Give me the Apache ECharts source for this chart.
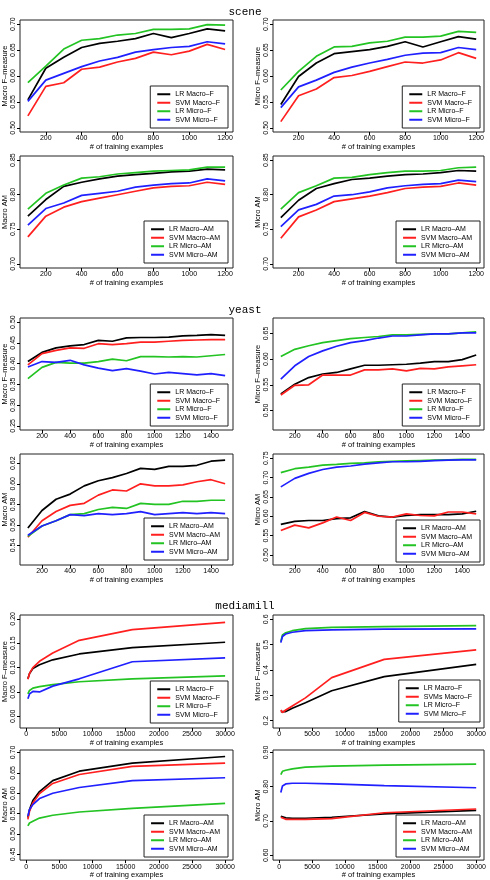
<!DOCTYPE html>
<html><head><meta charset="utf-8">
<script src="https://cdn.jsdelivr.net/npm/echarts@6/dist/echarts.min.js"></script>
<style>html,body{margin:0;padding:0;background:#fff}#c{width:490px;height:880px}</style>
</head><body><div id="c"></div>
<script>
// ---------- x values ----------
const sceneX = [100,200,300,400,500,600,700,800,900,1000,1100,1200];
const yeastX = [100,200,300,400,500,600,700,800,900,1000,1100,1200,1300,1400,1500];
const mediamillX = [250,500,1000,2000,4000,8000,16000,30000];

// ---------- tick labels ----------
const sceneXTicks = [200,400,600,800,1000,1200];
const yeastXTicks = [200,400,600,800,1000,1200,1400];
const mediamillXTicks = [0,5000,10000,15000,20000,25000,30000];

// ---------- legend names ----------
const namesF = ['LR Macro–F','SVM Macro–F','LR Micro–F','SVM Micro–F'];
const namesF2 = ['LR Macro–F','SVMs Macro–F','LR Micro–F','SVM Micro–F'];
const namesAM = ['LR Macro–AM','SVM Macro–AM','LR Micro–AM','SVM Micro–AM'];

// ---------- scene: Macro F-measure ----------
const sceneMacroF_lrMacro  = [0.554,0.615,0.636,0.655,0.663,0.667,0.672,0.682,0.674,0.682,0.691,0.687];
const sceneMacroF_svmMacro = [0.523,0.580,0.587,0.613,0.617,0.627,0.634,0.646,0.641,0.648,0.661,0.651];
const sceneMacroF_lrMicro  = [0.587,0.619,0.652,0.669,0.672,0.679,0.682,0.690,0.690,0.691,0.699,0.698];
const sceneMacroF_svmMicro = [0.551,0.592,0.605,0.618,0.629,0.636,0.646,0.651,0.655,0.657,0.666,0.662];
// ---------- scene: Micro F-measure ----------
const sceneMicroF_lrMacro  = [0.545,0.599,0.625,0.643,0.647,0.651,0.657,0.666,0.656,0.666,0.676,0.671];
const sceneMicroF_svmMacro = [0.512,0.562,0.575,0.597,0.601,0.609,0.618,0.627,0.625,0.631,0.645,0.634];
const sceneMicroF_lrMicro  = [0.573,0.609,0.638,0.656,0.657,0.664,0.667,0.675,0.675,0.677,0.686,0.684];
const sceneMicroF_svmMicro = [0.539,0.579,0.592,0.607,0.617,0.625,0.632,0.640,0.644,0.645,0.655,0.651];
// ---------- scene: Macro AM ----------
const sceneMacroAM_lrMacro  = [0.769,0.793,0.812,0.818,0.823,0.827,0.829,0.831,0.833,0.834,0.837,0.836];
const sceneMacroAM_svmMacro = [0.739,0.769,0.782,0.790,0.795,0.800,0.805,0.810,0.812,0.813,0.818,0.815];
const sceneMacroAM_lrMicro  = [0.779,0.802,0.814,0.824,0.826,0.830,0.832,0.834,0.835,0.836,0.840,0.840];
const sceneMacroAM_svmMicro = [0.756,0.780,0.788,0.799,0.802,0.805,0.811,0.814,0.816,0.817,0.823,0.820];
// ---------- scene: Micro AM ----------
const sceneMicroAM_lrMacro  = [0.767,0.792,0.809,0.816,0.822,0.824,0.827,0.829,0.830,0.832,0.835,0.834];
const sceneMicroAM_svmMacro = [0.737,0.768,0.778,0.790,0.794,0.798,0.803,0.809,0.811,0.812,0.817,0.814];
const sceneMicroAM_lrMicro  = [0.779,0.803,0.813,0.824,0.825,0.829,0.832,0.834,0.834,0.835,0.839,0.840];
const sceneMicroAM_svmMicro = [0.754,0.778,0.786,0.798,0.800,0.804,0.810,0.813,0.815,0.816,0.821,0.819];

// ---------- yeast: Macro F-measure ----------
const yeastMacroF_lrMacro  = [0.405,0.427,0.438,0.443,0.446,0.456,0.454,0.462,0.463,0.463,0.464,0.467,0.468,0.470,0.468];
const yeastMacroF_svmMacro = [0.397,0.424,0.432,0.438,0.437,0.448,0.446,0.448,0.452,0.452,0.454,0.456,0.457,0.458,0.458];
const yeastMacroF_lrMicro  = [0.364,0.391,0.403,0.401,0.401,0.405,0.411,0.407,0.417,0.417,0.416,0.417,0.416,0.419,0.422];
const yeastMacroF_svmMicro = [0.392,0.405,0.403,0.408,0.397,0.389,0.383,0.388,0.382,0.375,0.379,0.376,0.373,0.376,0.371];
// ---------- yeast: Micro F-measure ----------
const yeastMicroF_lrMacro  = [0.532,0.551,0.564,0.571,0.574,0.581,0.588,0.588,0.589,0.590,0.592,0.595,0.595,0.599,0.608];
const yeastMicroF_svmMacro = [0.530,0.549,0.550,0.569,0.569,0.569,0.579,0.579,0.581,0.577,0.582,0.581,0.585,0.587,0.589];
const yeastMicroF_lrMicro  = [0.605,0.619,0.626,0.632,0.636,0.640,0.642,0.644,0.647,0.647,0.648,0.649,0.649,0.651,0.653];
const yeastMicroF_svmMicro = [0.561,0.587,0.605,0.616,0.625,0.632,0.636,0.641,0.645,0.645,0.647,0.649,0.649,0.651,0.651];
// ---------- yeast: Macro AM ----------
const yeastMacroAM_lrMacro  = [0.557,0.574,0.585,0.590,0.598,0.603,0.606,0.610,0.615,0.614,0.617,0.617,0.618,0.622,0.623];
const yeastMacroAM_svmMacro = [0.548,0.564,0.573,0.579,0.581,0.589,0.594,0.593,0.600,0.598,0.598,0.599,0.602,0.604,0.600];
const yeastMacroAM_lrMicro  = [0.549,0.559,0.564,0.570,0.571,0.575,0.577,0.576,0.581,0.580,0.580,0.583,0.583,0.584,0.584];
const yeastMacroAM_svmMicro = [0.550,0.559,0.564,0.570,0.569,0.571,0.570,0.571,0.573,0.570,0.571,0.572,0.571,0.572,0.571];
// ---------- yeast: Micro AM ----------
const yeastMicroAM_lrMacro  = [0.579,0.587,0.589,0.589,0.594,0.596,0.612,0.601,0.598,0.602,0.604,0.604,0.604,0.606,0.613];
const yeastMicroAM_svmMacro = [0.563,0.577,0.570,0.583,0.598,0.589,0.610,0.600,0.598,0.606,0.602,0.601,0.611,0.611,0.606];
const yeastMicroAM_lrMicro  = [0.713,0.723,0.727,0.732,0.734,0.737,0.738,0.741,0.742,0.743,0.744,0.745,0.746,0.747,0.747];
const yeastMicroAM_svmMicro = [0.676,0.698,0.711,0.721,0.727,0.730,0.735,0.738,0.741,0.741,0.742,0.744,0.745,0.746,0.746];

// ---------- mediamill: Macro F-measure ----------
const mmMacroF_lrMacro  = [0.077,0.088,0.098,0.106,0.116,0.128,0.141,0.152];
const mmMacroF_svmMacro = [0.076,0.088,0.100,0.113,0.130,0.156,0.178,0.193];
const mmMacroF_lrMicro  = [0.046,0.053,0.058,0.061,0.065,0.071,0.077,0.083];
const mmMacroF_svmMicro = [0.036,0.046,0.051,0.050,0.062,0.077,0.112,0.120];
// ---------- mediamill: Micro F-measure ----------
const mmMicroF_lrMacro  = [0.236,0.229,0.236,0.249,0.271,0.318,0.374,0.422];
const mmMicroF_svmMacro = [0.242,0.232,0.242,0.258,0.290,0.370,0.442,0.479];
const mmMicroF_lrMicro  = [0.512,0.538,0.547,0.555,0.563,0.568,0.571,0.575];
const mmMicroF_svmMicro = [0.508,0.532,0.542,0.549,0.555,0.558,0.561,0.562];
// ---------- mediamill: Macro AM ----------
const mmMacroAM_lrMacro  = [0.540,0.560,0.582,0.604,0.631,0.654,0.674,0.690];
const mmMacroAM_svmMacro = [0.536,0.556,0.576,0.599,0.624,0.646,0.666,0.674];
const mmMacroAM_lrMicro  = [0.520,0.527,0.531,0.539,0.546,0.554,0.563,0.575];
const mmMacroAM_svmMicro = [0.544,0.560,0.572,0.587,0.600,0.614,0.631,0.638];
// ---------- mediamill: Micro AM ----------
const mmMicroAM_lrMacro  = [0.714,0.710,0.709,0.708,0.708,0.711,0.721,0.731];
const mmMicroAM_svmMacro = [0.711,0.707,0.705,0.705,0.705,0.707,0.724,0.735];
const mmMicroAM_lrMicro  = [0.835,0.845,0.848,0.852,0.857,0.860,0.863,0.866];
const mmMicroAM_svmMicro = [0.783,0.802,0.808,0.810,0.810,0.808,0.803,0.797];

// ---------- y tick labels ----------
const yTicksSceneF  = [0.50,0.55,0.60,0.65,0.70];
const yTicksSceneAM = [0.70,0.75,0.80,0.85];
const yTicksYeastMacroF = [0.25,0.30,0.35,0.40,0.45,0.50];
const yTicksYeastMicroF = [0.50,0.55,0.60,0.65];
const yTicksYeastMacroAM = [0.54,0.56,0.58,0.60,0.62];
const yTicksYeastMicroAM = [0.50,0.55,0.60,0.65,0.70,0.75];
const yTicksMmMacroF = [0.00,0.05,0.10,0.15,0.20];
const yTicksMmMicroF = [0.2,0.3,0.4,0.5,0.6];
const yTicksMmMacroAM = [0.45,0.50,0.55,0.60,0.65,0.70];
const yTicksMmMicroAM = [0.60,0.70,0.80,0.90];

// ---------- build ----------
const FONT = '"Liberation Sans", Arial, Helvetica, sans-serif';
const COLORS = ['#000000','#ff1f1f','#22c322','#2020ff'];

const panels = [
  {x:sceneX, xt:sceneXTicks, xr:[56,1244], ys:[sceneMacroF_lrMacro,sceneMacroF_svmMacro,sceneMacroF_lrMicro,sceneMacroF_svmMicro], names:namesF, yname:'Macro F–measure', yt:yTicksSceneF, yr:[0.492,0.708], dec:2},
  {x:sceneX, xt:sceneXTicks, xr:[56,1244], ys:[sceneMicroF_lrMacro,sceneMicroF_svmMacro,sceneMicroF_lrMicro,sceneMicroF_svmMicro], names:namesF, yname:'Micro F–measure', yt:yTicksSceneF, yr:[0.492,0.708], dec:2},
  {x:sceneX, xt:sceneXTicks, xr:[56,1244], ys:[sceneMacroAM_lrMacro,sceneMacroAM_svmMacro,sceneMacroAM_lrMicro,sceneMacroAM_svmMicro], names:namesAM, yname:'Macro AM', yt:yTicksSceneAM, yr:[0.694,0.856], dec:2},
  {x:sceneX, xt:sceneXTicks, xr:[56,1244], ys:[sceneMicroAM_lrMacro,sceneMicroAM_svmMacro,sceneMicroAM_lrMicro,sceneMicroAM_svmMicro], names:namesAM, yname:'Micro AM', yt:yTicksSceneAM, yr:[0.694,0.856], dec:2},
  {x:yeastX, xt:yeastXTicks, xr:[44,1556], ys:[yeastMacroF_lrMacro,yeastMacroF_svmMacro,yeastMacroF_lrMicro,yeastMacroF_svmMicro], names:namesF, yname:'Macro F–measure', yt:yTicksYeastMacroF, yr:[0.240,0.510], dec:2},
  {x:yeastX, xt:yeastXTicks, xr:[44,1556], ys:[yeastMicroF_lrMacro,yeastMicroF_svmMacro,yeastMicroF_lrMicro,yeastMicroF_svmMicro], names:namesF, yname:'Micro F–measure', yt:yTicksYeastMicroF, yr:[0.462,0.680], dec:2},
  {x:yeastX, xt:yeastXTicks, xr:[44,1556], ys:[yeastMacroAM_lrMacro,yeastMacroAM_svmMacro,yeastMacroAM_lrMicro,yeastMacroAM_svmMicro], names:namesAM, yname:'Macro AM', yt:yTicksYeastMacroAM, yr:[0.521,0.629], dec:2},
  {x:yeastX, xt:yeastXTicks, xr:[44,1556], ys:[yeastMicroAM_lrMacro,yeastMicroAM_svmMacro,yeastMicroAM_lrMicro,yeastMicroAM_svmMicro], names:namesAM, yname:'Micro AM', yt:yTicksYeastMicroAM, yr:[0.474,0.761], dec:2},
  {x:mediamillX, xt:mediamillXTicks, xr:[-940,31190], ys:[mmMacroF_lrMacro,mmMacroF_svmMacro,mmMacroF_lrMicro,mmMacroF_svmMicro], names:namesF, yname:'Macro F–measure', yt:yTicksMmMacroF, yr:[-0.024,0.208], dec:2},
  {x:mediamillX, xt:mediamillXTicks, xr:[-940,31190], ys:[mmMicroF_lrMacro,mmMicroF_svmMacro,mmMicroF_lrMicro,mmMicroF_svmMicro], names:namesF2, yname:'Micro F–measure', yt:yTicksMmMicroF, yr:[0.171,0.617], dec:1},
  {x:mediamillX, xt:mediamillXTicks, xr:[-940,31190], ys:[mmMacroAM_lrMacro,mmMacroAM_svmMacro,mmMacroAM_lrMicro,mmMacroAM_svmMicro], names:namesAM, yname:'Macro AM', yt:yTicksMmMacroAM, yr:[0.436,0.706], dec:2},
  {x:mediamillX, xt:mediamillXTicks, xr:[-940,31190], ys:[mmMicroAM_lrMacro,mmMicroAM_svmMacro,mmMicroAM_lrMicro,mmMicroAM_svmMicro], names:namesAM, yname:'Micro AM', yt:yTicksMmMicroAM, yr:[0.586,0.907], dec:2}
];

// layout (pixels)
const rowTops = [20,156,318,454,615,750];
const rowHeights = [112,112,112,111,113,112];
const colLeft = [20,273], colWidth = [213,211];
const legendTops = [86,86,221,221,384,384,518,520,681,680,815,815];
const legendRight = [262,10];

const option = {
  animation:false,
  backgroundColor:'#fff',
  title:[
    {text:'scene', left:'center', top:2},
    {text:'yeast', left:'center', top:300},
    {text:'mediamill', left:'center', top:596}
  ].map(t=>Object.assign(t,{textStyle:{fontFamily:'"Liberation Mono","DejaVu Sans Mono",monospace',fontSize:11,fontWeight:'normal',color:'#000'}})),
  grid:[], xAxis:[], yAxis:[], series:[], legend:[]
};

panels.forEach((p,i)=>{
  const row = Math.floor(i/2), col = i%2;
  option.grid.push({left:colLeft[col], top:rowTops[row], width:colWidth[col], height:rowHeights[row],
    show:true, borderColor:'#222', borderWidth:1, containLabel:false});
  option.xAxis.push({type:'value', gridIndex:i, min:p.xr[0], max:p.xr[1], position:'bottom',
    axisLine:{show:false, onZero:false}, splitLine:{show:false},
    axisTick:{show:true, length:3, customValues:p.xt, lineStyle:{color:'#000',width:1}},
    axisLabel:{customValues:p.xt, fontSize:7, margin:3, color:'#000', fontFamily:FONT, formatter:v=>String(v)},
    name:'# of training examples', nameLocation:'middle', nameGap:10,
    nameTextStyle:{fontSize:7.5, color:'#000', fontFamily:FONT}});
  option.yAxis.push({type:'value', gridIndex:i, min:p.yr[0], max:p.yr[1], position:'left',
    axisLine:{show:false, onZero:false}, splitLine:{show:false},
    axisTick:{show:true, length:3, customValues:p.yt, lineStyle:{color:'#000',width:1}},
    axisLabel:{customValues:p.yt, rotate:90, fontSize:7, margin:3, color:'#000', fontFamily:FONT, formatter:v=>v.toFixed(p.dec)},
    name:p.yname, nameLocation:'middle', nameRotate:90, nameGap:11,
    nameTextStyle:{fontSize:7.5, color:'#000', fontFamily:FONT}});
  p.ys.forEach((vals,k)=>{
    option.series.push({type:'line', name:p.names[k], xAxisIndex:i, yAxisIndex:i,
      data:p.x.map((xv,j)=>[xv,vals[j]]), symbol:'none', silent:true,
      color:COLORS[k], lineStyle:{color:COLORS[k], width:1.7}, z:2});
  });
  option.legend.push({orient:'vertical', right:legendRight[col], top:legendTops[i], data:p.names,
    icon:'rect', itemWidth:13, itemHeight:2, itemGap:0, padding:[4,8,4,7],
    borderColor:'#222', borderWidth:1, backgroundColor:'#fff', selectedMode:false,
    textStyle:{fontSize:7, lineHeight:8.5, color:'#000', fontFamily:FONT}});
});

const chart = echarts.init(document.getElementById('c'), null, {renderer:'canvas'});
chart.setOption(option);
</script></body></html>
